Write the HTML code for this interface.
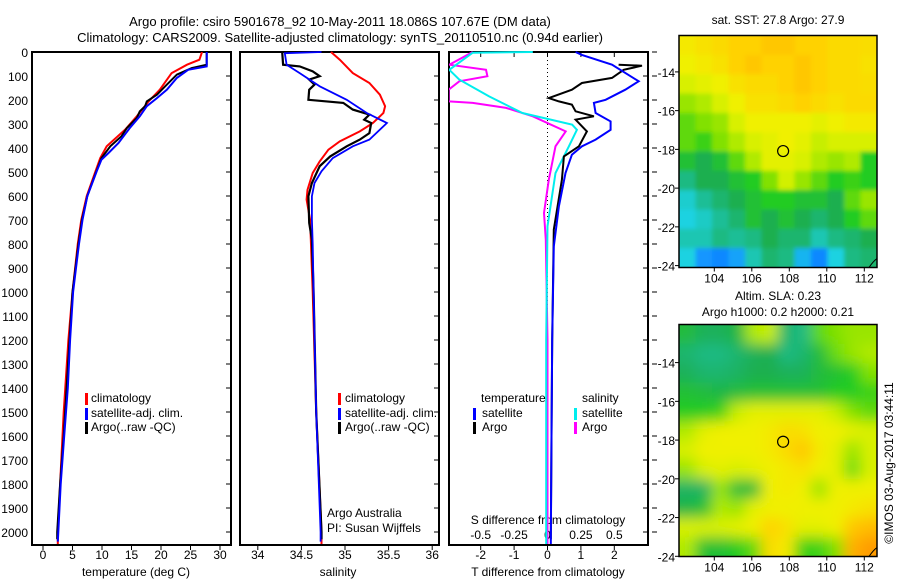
<!DOCTYPE html>
<html><head><meta charset="utf-8">
<style>
html,body{margin:0;padding:0;background:#fff;}
svg{display:block;font-family:"Liberation Sans",sans-serif;font-size:12px;}
</style></head>
<body>
<svg id="fig" width="900" height="580" viewBox="0 0 900 580">
<defs>
<clipPath id="c1"><rect x="32" y="39" width="199" height="506"/></clipPath>
<clipPath id="c2"><rect x="240" y="39" width="199" height="506"/></clipPath>
<clipPath id="c3"><rect x="449" y="39" width="199" height="506"/></clipPath>
<clipPath id="cm1"><rect x="679" y="35.5" width="198" height="231.5"/></clipPath>
<clipPath id="cm2"><rect x="679" y="324.5" width="198" height="232"/></clipPath>
<filter id="blur1" x="-5%" y="-5%" width="110%" height="110%"><feGaussianBlur stdDeviation="2"/></filter>
<filter id="blur2" x="-5%" y="-5%" width="110%" height="110%"><feGaussianBlur stdDeviation="7"/></filter>
</defs>
<g id="root"></g>
</svg>
<script>
// ---------- data ----------
const depthTicks = [0,100,200,300,400,500,600,700,800,900,1000,1100,1200,1300,1400,1500,1600,1700,1800,1900,2000];
const tempTicks = [0,5,10,15,20,25,30];
const salTicks = [34,34.5,35,35.5,36];
const salTickLabels = ["34","34.5","35","35.5","36"];
const tdTicks = [-2,-1,0,1,2];
const sdTicks = [-0.5,-0.25,0,0.25,0.5];
const sdTickLabels = ["-0.5","-0.25","0","0.25","0.5"];

const tempClimDepth = [0,4,32,53,88,157,206,268,324,393,442,504,601,699,799,1000,1199,1500,1700,2000,2050];
const tempClimVal = [26.9,26.9,26.5,24.4,21.8,19.8,17.9,15.9,13.9,10.8,9.7,8.8,7.4,6.5,5.9,5.0,4.3,3.5,3.1,2.5,2.5];
const tempSatDepth = [0,60,74,108,157,192,226,268,317,379,421,449,497,601,699,799,900,1000,1199,1400,1600,1800,2000,2040];
const tempSatVal = [27.75,27.75,24.6,22.7,21.0,19.3,17.6,16.4,14.7,12.8,11.1,9.9,9.1,7.5,6.7,6.1,5.6,5.1,4.6,4.2,3.6,3.0,2.6,2.5];
const tempArgoDepth = [0,53,67,94,136,178,206,226,247,275,317,351,393,442,500,600,700,800,1000,1200,1400,1600,1800,2000,2030];
const tempArgoVal = [27.75,27.75,25.2,22.7,21.0,19.3,17.6,17.3,16.4,15.9,14.2,13.3,11.4,9.9,9.0,7.5,6.6,6.0,5.0,4.5,4.0,3.5,2.9,2.4,2.4];

const salClimDepth = [0,32,88,129,178,226,254,296,331,372,407,456,504,574,615,699,1000,1500,2000,2050];
const salClimVal = [34.84,34.94,35.09,35.28,35.40,35.46,35.44,35.32,35.17,34.94,34.81,34.71,34.63,34.57,34.56,34.6,34.63,34.67,34.73,34.73];
const salSatDepth = [0,5,53,88,143,199,254,296,365,393,442,497,546,601,699,799,1000,1500,2000,2040];
const salSatVal = [34.73,34.31,34.33,34.48,34.71,35.02,35.25,35.48,35.28,35.09,34.86,34.73,34.65,34.62,34.62,34.63,34.64,34.67,34.72,34.72];
const salArgoDepth = [0,53,60,81,101,115,136,157,199,212,240,261,282,296,338,365,393,435,476,546,601,712,782,1000,1500,2000,2030];
const salArgoVal = [34.28,34.29,34.48,34.63,34.71,34.59,34.65,34.59,34.58,34.98,35.09,35.28,35.22,35.30,35.28,35.17,35.02,34.83,34.71,34.62,34.58,34.59,34.62,34.64,34.67,34.73,34.73];

const tdSatDepth = [0,12,53,122,157,199,212,254,289,324,365,393,428,504,643,810,1199,1600,2050];
const tdSatVal = [0.84,1.03,1.93,2.73,2.33,1.74,1.39,1.44,1.89,1.89,1.44,1.03,0.73,0.54,0.34,0.19,0.14,0.12,0.1];
const tdArgoDepth = [53,57,74,108,129,157,192,206,219,247,268,282,331,393,435,532,740,1199,1600,2030];
const tdArgoVal = [2.13,2.83,2.28,1.93,1.03,0.73,0.04,0.34,0.73,0.84,1.39,0.84,1.18,0.94,0.49,0.43,0.19,0.14,0.12,0.1];
const sdSatDepth = [0,3,74,115,185,254,303,324,393,504,726,1199,2050];
const sdSatVal = [-0.11,-0.56,-0.735,-0.66,-0.437,-0.188,0.185,0.22,0.16,0.06,0.0,-0.01,-0.01];
const sdArgoDepth = [0,53,74,101,122,157,206,212,233,268,331,393,532,671,782,1199,2050];
const sdArgoVal = [-0.56,-0.735,-0.46,-0.45,-0.66,-0.74,-0.74,-0.56,-0.31,-0.11,0.136,0.06,0.01,-0.026,-0.013,0,0];

const lonTicks = [104,106,108,110,112];
const latTicks = [-14,-16,-18,-20,-22,-24];
const argoLon = 107.67, argoLat = -18.086;
const sstGrid = [
[.72,.74,.76,.78,.78,.8,.8,.78,.78,.76,.76,.75],
[.7,.72,.74,.78,.8,.78,.78,.8,.78,.76,.76,.74],
[.66,.68,.7,.74,.76,.76,.78,.8,.78,.76,.76,.75],
[.6,.62,.66,.7,.74,.74,.76,.78,.76,.74,.76,.76],
[.55,.58,.6,.66,.7,.7,.7,.7,.68,.7,.72,.72],
[.55,.52,.58,.62,.66,.68,.7,.68,.64,.66,.66,.66],
[.48,.45,.48,.55,.62,.68,.68,.66,.62,.6,.62,.5],
[.4,.45,.45,.48,.5,.58,.65,.6,.55,.5,.52,.5],
[.32,.38,.42,.45,.48,.5,.5,.48,.48,.45,.55,.6],
[.3,.33,.38,.42,.48,.45,.48,.45,.42,.45,.5,.55],
[.35,.35,.4,.38,.4,.45,.42,.42,.35,.4,.42,.45],
[.3,.2,.18,.22,.35,.42,.4,.25,.18,.3,.4,.42]];
const slaGrid = [
[.47,.44,.44,.46,.62,.64,.42,.4,.55,.58,.6,.6],
[.42,.4,.4,.42,.44,.45,.4,.42,.47,.56,.6,.62],
[.44,.42,.42,.43,.45,.45,.44,.44,.47,.48,.5,.58],
[.48,.47,.46,.47,.48,.48,.48,.48,.48,.5,.5,.52],
[.5,.5,.52,.64,.68,.68,.68,.68,.68,.64,.58,.55],
[.62,.68,.7,.7,.7,.72,.75,.74,.7,.7,.68,.66],
[.66,.7,.7,.7,.7,.72,.76,.8,.72,.68,.6,.66],
[.6,.66,.68,.66,.68,.7,.72,.74,.7,.68,.56,.66],
[.43,.43,.6,.47,.47,.7,.72,.7,.6,.7,.7,.7],
[.46,.48,.62,.6,.68,.7,.7,.7,.7,.7,.72,.74],
[.66,.66,.66,.68,.7,.78,.74,.68,.68,.7,.8,.82],
[.62,.48,.48,.5,.55,.75,.72,.52,.52,.58,.84,.88]];
const cmapStops = [[0.1,[0,80,255]],[0.2,[20,150,255]],[0.3,[30,210,225]],[0.38,[30,190,150]],[0.45,[30,175,80]],[0.5,[34,204,34]],[0.58,[130,225,0]],[0.65,[210,240,0]],[0.7,[240,240,0]],[0.78,[255,210,0]],[0.85,[255,170,0]],[0.95,[255,120,0]]];

// ---------- helpers ----------
const NS = "http://www.w3.org/2000/svg";
const root = document.getElementById('root');
function el(tag, attrs, parent, txt){
  const e = document.createElementNS(NS, tag);
  for (const k in attrs) e.setAttribute(k, attrs[k]);
  if (txt !== undefined) e.textContent = txt;
  (parent || root).appendChild(e);
  return e;
}
const yD = d => 52 + 0.24 * d;
const xT = t => 43 + 5.9 * t;
const xS = s => 345 + 87.2 * (s - 35);
const xTD = t => 547.5 + 33.4 * t;
const xSD = s => 547.5 + 133.6 * s;
const lonX = lon => 714.3 + 18.75 * (lon - 104);
const latY1 = lat => 71.9 + 19.37 * (-14 - lat);
const latY2 = lat => 362.6 + 19.37 * (-14 - lat);
function cmap(v){
  if (v <= cmapStops[0][0]) return 'rgb(' + cmapStops[0][1].join(',') + ')';
  for (let i = 1; i < cmapStops.length; i++){
    if (v <= cmapStops[i][0]){
      const a = cmapStops[i-1], b = cmapStops[i], f = (v - a[0]) / (b[0] - a[0]);
      return 'rgb(' + a[1].map((c, j) => Math.round(c + (b[1][j] - c) * f)).join(',') + ')';
    }
  }
  return 'rgb(' + cmapStops[cmapStops.length-1][1].join(',') + ')';
}
function line(depths, vals, xf, color, w, clip, name){
  const pts = depths.map((d, i) => xf(vals[i]).toFixed(1) + ',' + yD(d).toFixed(1)).join(' ');
  const p = el('polyline', {points: pts, fill: 'none', stroke: color, 'stroke-width': w, 'clip-path': 'url(#' + clip + ')', 'stroke-linejoin': 'miter'});
  
  
}
function txt(x, y, s, anchor, name, extra){
  const t = el('text', Object.assign({x: x, y: y, 'text-anchor': anchor || 'start', fill: '#000'}, extra || {}), root, s);
  
  
  return t;
}
function legendBar(x, y, color, name){
  const b = el('rect', {x: x, y: y - 9, width: 3, height: 12, fill: color});
  
  
}

// ---------- titles ----------
txt(340, 26, 'Argo profile: csiro 5901678_92 10-May-2011 18.086S 107.67E (DM data)', 'middle', 'chart-title', {'font-size': '13'});
txt(340, 42, 'Climatology: CARS2009. Satellite-adjusted climatology: synTS_20110510.nc (0.94d earlier)', 'middle', 'chart-subtitle', {'font-size': '13'});

// ---------- panel frames ----------
const panels = [[32,'temperature-panel'],[240,'salinity-panel'],[449,'difference-panel']];
panels.forEach(p => {
  const r = el('rect', {x: p[0], y: 52, width: 199, height: 493, fill: 'none', stroke: '#000', 'stroke-width': 2});
  
  
});

// depth axis
depthTicks.forEach(d => {
  txt(28, yD(d) + 5, String(d), 'end', 'depth-tick-label');
  [231, 439, 648].forEach(xr => {
    const t = el('line', {x1: xr, x2: xr - 5, y1: yD(d), y2: yD(d), stroke: '#000', 'stroke-width': 1});
    
    
  });
  const t2 = el('line', {x1: 652, x2: 657, y1: yD(d), y2: yD(d), stroke: '#000', 'stroke-width': 1});
  
  
});

// x axes
function xTicks(ticks, labels, xf, name){
  ticks.forEach((v, i) => {
    const t = el('line', {x1: xf(v), x2: xf(v), y1: 545, y2: 550, stroke: '#000'});
    
    
    txt(xf(v), 559, labels[i], 'middle', name + '-tick-label');
  });
}
xTicks(tempTicks, tempTicks.map(String), xT, 'temperature-axis');
xTicks(salTicks, salTickLabels, xS, 'salinity-axis');
xTicks(tdTicks, tdTicks.map(String), xTD, 't-diff-axis');
txt(136, 576, 'temperature (deg C)', 'middle', 'temperature-axis-title');
txt(338, 576, 'salinity', 'middle', 'salinity-axis-title');
txt(548, 576, 'T difference from climatology', 'middle', 't-diff-axis-title');
sdTicks.forEach((v, i) => {
  const t = el('line', {x1: xSD(v), x2: xSD(v), y1: 52, y2: 57, stroke: '#000'});
  
  
  txt(xSD(v), 539, sdTickLabels[i], 'middle', 's-diff-tick-label');
});
txt(548, 524, 'S difference from climatology', 'middle', 's-diff-axis-title');

// zero dotted line
const zl = el('line', {x1: xTD(0), x2: xTD(0), y1: 52, y2: 545, stroke: '#000', 'stroke-width': 1, 'stroke-dasharray': '1,3'});



// series
line(tempClimDepth, tempClimVal, xT, '#ff0000', 2, 'c1', 'temperature-climatology-line');
line(tempArgoDepth, tempArgoVal, xT, '#000000', 2, 'c1', 'temperature-argo-line');
line(tempSatDepth, tempSatVal, xT, '#0000ff', 2, 'c1', 'temperature-satellite-line');
line(salClimDepth, salClimVal, xS, '#ff0000', 2, 'c2', 'salinity-climatology-line');
line(salArgoDepth, salArgoVal, xS, '#000000', 2.2, 'c2', 'salinity-argo-line');
line(salSatDepth, salSatVal, xS, '#0000ff', 1.8, 'c2', 'salinity-satellite-line');
line(sdArgoDepth, sdArgoVal, xSD, '#ff00ff', 2, 'c3', 's-diff-argo-line');
line(sdSatDepth, sdSatVal, xSD, '#00eeee', 2, 'c3', 's-diff-satellite-line');
line(tdArgoDepth, tdArgoVal, xTD, '#000000', 2, 'c3', 't-diff-argo-line');
line(tdSatDepth, tdSatVal, xTD, '#0000ff', 2, 'c3', 't-diff-satellite-line');

// legends
[[85,91],[338,345]].forEach((p, k) => {
  const pre = k === 0 ? 'temperature' : 'salinity';
  legendBar(p[0], 402, '#ff0000', pre + '-legend-climatology-marker');
  txt(p[1], 402, 'climatology', 'start', pre + '-legend-climatology');
  legendBar(p[0], 417, '#0000ff', pre + '-legend-satellite-marker');
  txt(p[1], 417, 'satellite-adj. clim.', 'start', pre + '-legend-satellite');
  legendBar(p[0], 431, '#000000', pre + '-legend-argo-marker');
  txt(p[1], 431, 'Argo(..raw -QC)', 'start', pre + '-legend-argo');
});
txt(481, 402, 'temperature', 'start', 'diff-legend-temperature-header');
txt(582, 402, 'salinity', 'start', 'diff-legend-salinity-header');
legendBar(473, 417, '#0000ff', 'diff-legend-t-satellite-marker');
txt(482, 417, 'satellite', 'start', 'diff-legend-t-satellite');
legendBar(473, 431, '#000000', 'diff-legend-t-argo-marker');
txt(482, 431, 'Argo', 'start', 'diff-legend-t-argo');
legendBar(574, 417, '#00eeee', 'diff-legend-s-satellite-marker');
txt(582, 417, 'satellite', 'start', 'diff-legend-s-satellite');
legendBar(574, 431, '#ff00ff', 'diff-legend-s-argo-marker');
txt(582, 431, 'Argo', 'start', 'diff-legend-s-argo');
txt(327, 517, 'Argo Australia', 'start', 'institution-label');
txt(327, 532, 'PI: Susan Wijffels', 'start', 'pi-label');

// ---------- maps ----------
function drawMap(grid, y0, latY, titleLines, name, filt){
  const x0 = 679, w = 198, h = 232;
  const rows = grid.length, cols = grid[0].length;
  const g = el('g', {'clip-path': 'url(#' + (y0 < 100 ? 'cm1' : 'cm2') + ')'});
  
  
  const inner = el('g', {filter: 'url(#' + filt + ')'}, g);
  const cw = w / cols, ch = h / rows;
  grid.forEach((row, r) => row.forEach((v, c) => {
    const ex0 = c === 0 ? -15 : 0, ey0 = r === 0 ? -15 : 0;
    const ex1 = c === cols - 1 ? 15 : 0, ey1 = r === rows - 1 ? 15 : 0;
    const cell = el('rect', {x: x0 + c * cw + ex0, y: y0 + r * ch + ey0, width: cw + 0.6 - ex0 + ex1, height: ch + 0.6 - ey0 + ey1, fill: cmap(v)}, inner);
    
    
  }));
  const arc = el('path', {d: 'M' + (x0 + w - 8) + ',' + (y0 + h) + ' Q' + (x0 + w - 4) + ',' + (y0 + h - 6) + ' ' + (x0 + w) + ',' + (y0 + h - 9), fill: 'none', stroke: '#000', 'stroke-width': 1}, g);
  
  
  const fr = el('rect', {x: x0, y: y0, width: w, height: h, fill: 'none', stroke: '#000', 'stroke-width': 1.5});
  
  
  const circ = el('circle', {cx: lonX(argoLon), cy: latY(argoLat), r: 5.5, fill: 'none', stroke: '#000', 'stroke-width': 1.2});
  
  
  latTicks.forEach(l => {
    const t = el('line', {x1: x0 - 4, x2: x0, y1: latY(l), y2: latY(l), stroke: '#000'});
    
    
    txt(675, latY(l) + 5, String(l), 'end', name + '-lat-label');
  });
  lonTicks.forEach(l => {
    const t = el('line', {x1: lonX(l), x2: lonX(l), y1: y0 + h, y2: y0 + h + 4, stroke: '#000'});
    
    
    txt(lonX(l), y0 + h + 15, String(l), 'middle', name + '-lon-label');
  });
  titleLines.forEach((s, i) => txt(778, s[1], s[0], 'middle', name + '-title-' + (i + 1)));
}
drawMap(sstGrid, 35.5, latY1, [['sat. SST: 27.8 Argo: 27.9', 24]], 'sst-map', 'blur1');
drawMap(slaGrid, 324.5, latY2, [['Altim. SLA: 0.23', 300], ['Argo h1000: 0.2 h2000: 0.21', 316]], 'sla-map', 'blur2');
txt(893, 463, '\u00a9IMOS 03-Aug-2017 03:44:11', 'middle', 'imos-timestamp', {transform: 'rotate(-90 893 463)'});
</script>
</body></html>
